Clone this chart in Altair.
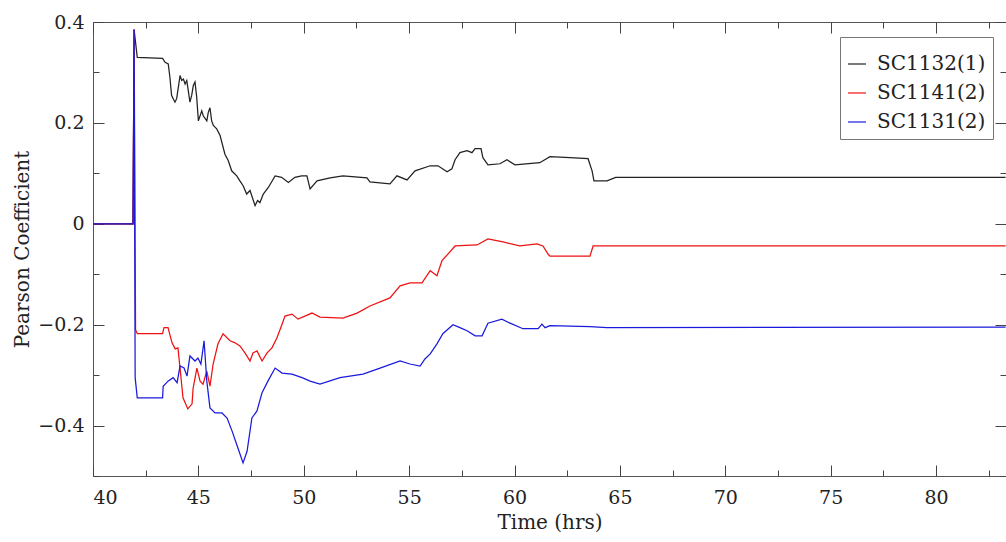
import altair as alt
import pandas as pd

# Series names, colours (legend order)
SERIES = ["SC1132(1)", "SC1141(2)", "SC1131(2)"]
COLORS = ["#222222", "#ee1111", "#1a1add"]

# Running Pearson coefficient per series: time (hrs) and coefficient
t_1132 = [40, 41.9, 41.95, 42.1, 43.3, 43.42, 43.57, 43.65, 43.73, 43.89, 43.97, 44.05,
          44.13, 44.21, 44.29, 44.37, 44.45, 44.52, 44.6, 44.68, 44.76, 44.84, 44.92, 45.0,
          45.16, 45.23, 45.4, 45.47, 45.55, 45.63, 45.71, 45.87, 46.03, 46.26, 46.42, 46.58,
          46.82, 46.97, 47.13, 47.29, 47.45, 47.53, 47.69, 47.81, 47.92, 48.08, 48.32, 48.64,
          48.95, 49.27, 49.58, 49.9, 50.15, 50.3, 50.63,
          51.25, 51.86, 53.0, 53.14, 54.09, 54.42, 54.9, 55.28, 56.0, 56.37, 56.8, 57.03,
          57.18, 57.41, 57.75, 57.98, 58.13, 58.41, 58.5, 58.74, 59.31, 59.64, 60.02, 61.2,
          61.68, 62.63, 63.49, 63.68, 63.77, 64.39, 64.8, 83.3]
r_1132 = [0, 0, 0.385, 0.33, 0.328, 0.320, 0.317, 0.290, 0.254, 0.241, 0.248, 0.271,
          0.294, 0.284, 0.287, 0.277, 0.284, 0.264, 0.241, 0.254, 0.274, 0.281, 0.251, 0.204,
          0.224, 0.214, 0.204, 0.221, 0.23, 0.204, 0.195, 0.188, 0.175, 0.138, 0.125, 0.105,
          0.095, 0.085, 0.075, 0.059, 0.066, 0.056, 0.036, 0.046, 0.042, 0.059, 0.072, 0.095,
          0.092, 0.082, 0.092, 0.095, 0.095, 0.069, 0.085,
          0.091, 0.095, 0.091, 0.083, 0.079, 0.095, 0.087, 0.105, 0.115, 0.115, 0.103, 0.109,
          0.127, 0.141, 0.145, 0.141, 0.149, 0.149, 0.131, 0.117, 0.119, 0.127, 0.117, 0.121,
          0.133, 0.131, 0.129, 0.105, 0.085, 0.085, 0.092, 0.092]

t_1141 = [40, 41.9, 41.95, 42.02, 42.1, 43.3, 43.37, 43.56, 43.75, 43.9, 44.03, 44.13,
          44.27, 44.5, 44.7, 44.75, 44.93, 45.08, 45.22, 45.4, 45.55, 45.7, 45.93, 46.17,
          46.5, 46.74, 46.97, 47.21, 47.45, 47.59, 47.78, 48.02, 48.26, 48.49, 48.73, 48.97,
          49.11, 49.44, 49.73, 50.39, 50.77, 51.86, 52.53, 53.14, 54.09, 54.57, 55.04, 55.61,
          56.0, 56.32, 56.56, 56.84, 57.18, 58.22, 58.74, 59.45, 60.25, 61.07, 61.35, 61.59,
          61.68, 63.58, 63.73, 83.3]
r_1141 = [0, 0, 0.385, -0.21, -0.218, -0.218, -0.206, -0.206, -0.236, -0.248, -0.246, -0.286,
          -0.345, -0.367, -0.357, -0.326, -0.286, -0.312, -0.318, -0.292, -0.322, -0.278, -0.238, -0.218,
          -0.232, -0.236, -0.242, -0.256, -0.272, -0.256, -0.252, -0.272, -0.256, -0.246, -0.226, -0.199,
          -0.183, -0.179, -0.189, -0.177, -0.185, -0.187, -0.177, -0.163, -0.147, -0.123, -0.117, -0.117,
          -0.093, -0.103, -0.073, -0.06, -0.044, -0.042, -0.030, -0.036, -0.044, -0.040, -0.044, -0.060,
          -0.064, -0.064, -0.044, -0.044]

t_1131 = [40, 41.9, 41.95, 42.0, 42.1, 43.3, 43.33, 43.56, 43.8, 43.99, 44.13, 44.32,
          44.46, 44.6, 44.84, 44.98, 45.12, 45.27, 45.4, 45.55, 45.79, 46.12, 46.36, 46.6,
          46.88, 47.12, 47.31, 47.54, 47.78, 48.02, 48.3, 48.64, 48.97, 49.44, 49.92, 50.3,
          50.77, 51.72, 52.81, 53.62, 54.57, 55.04, 55.52, 55.75, 56.0, 56.32, 56.6, 57.08,
          57.41, 57.75, 58.13, 58.46, 58.74, 59.4, 59.79, 60.4, 61.12, 61.3, 61.45, 61.68,
          63.58, 64.39, 83.3]
r_1131 = [0, 0, 0.385, -0.305, -0.345, -0.345, -0.322, -0.312, -0.305, -0.315, -0.282, -0.286,
          -0.302, -0.262, -0.272, -0.266, -0.278, -0.232, -0.312, -0.365, -0.375, -0.375, -0.385, -0.411,
          -0.445, -0.474, -0.451, -0.385, -0.371, -0.335, -0.312, -0.286, -0.296, -0.298, -0.305, -0.312,
          -0.318, -0.305, -0.298, -0.286, -0.272, -0.278, -0.282, -0.268, -0.258, -0.238, -0.218, -0.2,
          -0.206, -0.212, -0.222, -0.222, -0.197, -0.189, -0.197, -0.208, -0.208, -0.199, -0.206, -0.202,
          -0.204, -0.206, -0.205]

# Axis tick positions
X_MAJOR = [40, 45, 50, 55, 60, 65, 70, 75, 80]
X_MINOR = [42.5, 47.5, 52.5, 57.5, 62.5, 67.5, 72.5, 77.5, 82.5]
Y_MAJOR = [-0.4, -0.2, 0, 0.2, 0.4]
Y_MINOR = [-0.5, -0.3, -0.1, 0.1, 0.3]

rows = []
for k, (name, ts, rs) in enumerate(zip(SERIES, [t_1132, t_1141, t_1131], [r_1132, r_1141, r_1131])):
    for i, (t, r) in enumerate(zip(ts, rs)):
        rows.append({"series": name, "k": k, "i": i, "t": t, "r": r})
df = pd.DataFrame(rows)

W, H = 913, 454
FONT = "DejaVu Serif"
INK = "#222222"

x_scale = alt.Scale(domain=[40, 83.32], nice=False, zero=False)
y_scale = alt.Scale(domain=[-0.5, 0.4], nice=False, zero=False)

base = alt.Chart(df)

lines = base.mark_line(strokeWidth=1.25, clip=True).encode(
    x=alt.X("t:Q", scale=x_scale,
            axis=alt.Axis(title="Time (hrs)", values=X_MAJOR, ticks=False, tickSize=0,
                          domain=False, grid=False, labelPadding=12, titlePadding=5)),
    y=alt.Y("r:Q", scale=y_scale,
            axis=alt.Axis(title="Pearson Coefficient", values=Y_MAJOR, format=".1~f",
                          ticks=False, tickSize=0, domain=False, grid=False,
                          labelPadding=9, titlePadding=5)),
    color=alt.Color("series:N", scale=alt.Scale(domain=SERIES, range=COLORS),
                    legend=alt.Legend(title=" ", titleFontSize=8, titlePadding=2,
                                      orient="none", legendX=747, legendY=15,
                                      symbolType="stroke", symbolSize=324, symbolStrokeWidth=1.2,
                                      labelFont=FONT, labelFontSize=20, labelColor=INK,
                                      labelOffset=10, fillColor="white", strokeColor="#777777",
                                      padding=7, rowPadding=9)),
    detail="k:O",
    order="i:Q",
)


def tick_layer(x_orient, y_orient, xvals, yvals, size):
    # Invisible layer whose only job is an inward-pointing tick axis on one side
    return base.mark_line(opacity=0).encode(
        x=alt.X("t:Q", scale=x_scale, title=None,
                axis=alt.Axis(orient=x_orient, offset=-H, values=xvals, tickSize=size,
                              tickColor="#444444", labels=False, domain=False, grid=False)),
        y=alt.Y("r:Q", scale=y_scale, title=None,
                axis=alt.Axis(orient=y_orient, offset=-W, values=yvals, tickSize=size,
                              tickColor="#444444", labels=False, domain=False, grid=False)),
        detail="k:O",
    )


chart = alt.layer(
    lines,
    tick_layer("top", "right", X_MAJOR, Y_MAJOR, 11),
    tick_layer("bottom", "left", X_MAJOR, Y_MAJOR, 11),
    tick_layer("top", "right", X_MINOR, Y_MINOR, 6),
    tick_layer("bottom", "left", X_MINOR, Y_MINOR, 6),
).resolve_axis(x="independent", y="independent").properties(
    width=W, height=H,
    autosize=alt.AutoSizeParams(type="none"),
    padding={"left": 93, "top": 22, "right": 0, "bottom": 66},
).configure_view(
    stroke="#555555", strokeWidth=1,
).configure_axis(
    labelFont=FONT, labelFontSize=19, labelColor=INK,
    titleFont=FONT, titleFontSize=20, titleFontWeight="normal", titleColor=INK,
)

chart.save("out.html", embed_options={"renderer": "svg", "actions": False})
